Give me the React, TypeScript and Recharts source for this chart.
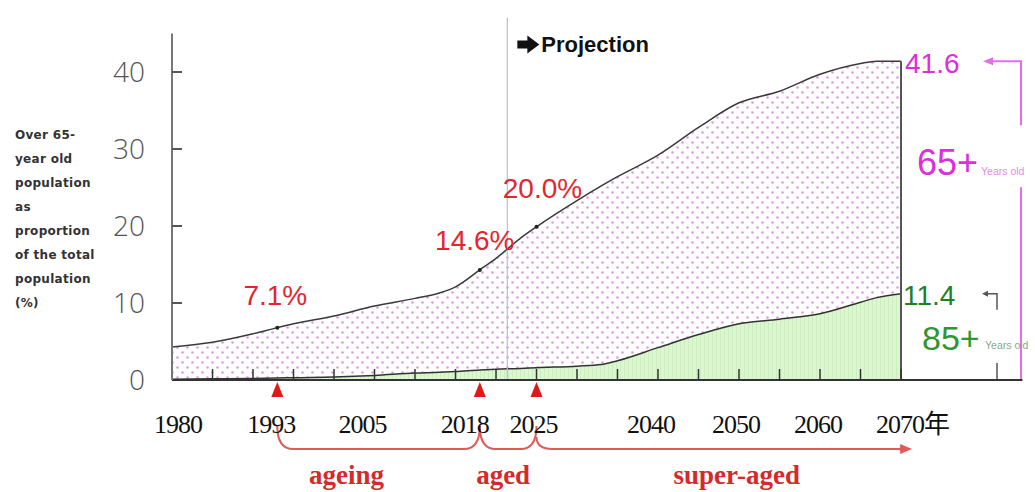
import React from "react";
import { ComposedChart, Area, XAxis, YAxis, ReferenceLine, ReferenceDot } from "recharts";

// ─── data ─────────────────────────────────────────────────────────────────────
const years = [1980, 1985, 1990, 1993, 1995, 2000, 2005, 2010, 2013, 2015, 2018, 2020, 2023, 2025, 2030, 2033, 2035, 2040, 2045, 2050, 2055, 2060, 2065, 2067, 2070];
const over65 = [4.3, 4.9, 6.0, 6.8, 7.3, 8.3, 9.6, 10.6, 11.3, 12.1, 14.3, 15.8, 18.4, 19.9, 23.3, 25.2, 26.4, 29.2, 32.8, 36.0, 37.5, 39.7, 41.1, 41.4, 41.4];
const over85 = [0.1, 0.15, 0.2, 0.25, 0.3, 0.4, 0.6, 0.9, 1.0, 1.1, 1.3, 1.4, 1.5, 1.6, 1.8, 2.0, 2.5, 4.2, 5.9, 7.3, 7.9, 8.6, 10.1, 10.7, 11.2];

const yTicks = [0, 10, 20, 30, 40];
const xTicks = [1980, 1985, 1990, 1993, 1995, 2000, 2005, 2010, 2015, 2018, 2020, 2025, 2030, 2035, 2040, 2045, 2050, 2055, 2060, 2065, 2070];
const xLabelYears = [1980, 1993, 2005, 2018, 2025, 2040, 2050, 2060, 2070];
const markYears = [1993, 2018, 2025];
const markLabels = ["7.1%", "14.6%", "20.0%"];
const stageFrom = [1993, 2018, 2025];
const stageTo = [2018, 2025, 2071];
const stageNames = ["ageing", "aged", "super-aged"];
const projectionYear = 2021.4;
const end65Label = "41.6";
const end85Label = "11.4";
const yTitleLines = ["Over 65-", "year old", "population", "as", "proportion", "of the total", "population", "(%)"];

const data = years.map((year, i) => ({ year, p65: over65[i], p85: over85[i] }));

// ─── styles ───────────────────────────────────────────────────────────────────
const RED = "#e3262e";
const MAGENTA = "#dd2edd";
const GREEN = "#237f23";
const SANS = "'Liberation Sans', Arial, sans-serif";
const SERIF = "'Liberation Serif', 'Noto Sans CJK SC', serif";
const xLabelNudge: Record<number, number> = { 1980: 6, 1993: -6, 2005: -12, 2018: -15, 2025: -3, 2040: -7, 2050: -3, 2060: -2 };
const markLabelOffset = [[-2, -23], [-5, -20], [6, -29]];
const stageLabelDx = [-32, -5, 14];

function XTick(props: any) {
  const { x, y, payload } = props;
  const v = payload.value as number;
  return (
    <g>
      {v % 5 === 0 && v > 1980 && (
        <line x1={x} y1={y} x2={x} y2={y - 11} stroke="#333" strokeWidth={1.5} />
      )}
      {markYears.includes(v) && (
        <path d={`M${x} ${y + 2} L${x + 6} ${y + 17} L${x - 6} ${y + 17} Z`} fill="#e01818" />
      )}
      {xLabelYears.includes(v) &&
        (v === 2070 ? (
          <text x={x - 25} y={y + 53} fontFamily={SERIF} fontSize={26} letterSpacing={-1} fill="#111">
            2070年
          </text>
        ) : (
          <text
            x={x + (xLabelNudge[v] || 0)}
            y={y + 53}
            textAnchor="middle"
            fontFamily={SERIF}
            fontSize={26}
            letterSpacing={-1}
            fill="#111"
          >
            {v}
          </text>
        ))}
    </g>
  );
}

function YTick(props: any) {
  const { x, y, payload } = props;
  return (
    <g>
      {payload.value > 0 && <line x1={x} y1={y} x2={x + 10} y2={y} stroke="#555" strokeWidth={2} />}
      <text
        x={x - 27}
        y={y}
        dy="0.36em"
        textAnchor="end"
        fontFamily="'Open Sans', 'DejaVu Sans', sans-serif"
        fontWeight={300}
        fontSize={28}
        fill="#555"
      >
        {payload.value}
      </text>
    </g>
  );
}

function markShape(i: number) {
  return (props: any) => {
    const { cx, cy } = props;
    const [dx, dy] = markLabelOffset[i];
    return (
      <g>
        <circle cx={cx} cy={cy} r={2} fill="#222" />
        <text x={cx + dx} y={cy + dy} textAnchor="middle" fontFamily={SANS} fontSize={28} fill={RED}>
          {markLabels[i]}
        </text>
      </g>
    );
  };
}

function stageShape(i: number) {
  return (props: any) => {
    const { x1, x2, y1 } = props;
    const top = y1 + (i === 2 ? 57 : 46);
    const bot = y1 + 69;
    const d =
      i === 2
        ? `M${x1} ${top} Q${x1} ${bot} ${x1 + 16} ${bot} H${x2 - 6}`
        : `M${x1} ${top} Q${x1} ${bot} ${x1 + 16} ${bot} H${x2 - 16} Q${x2} ${bot} ${x2} ${top}`;
    return (
      <g>
        <path d={d} stroke="#e05a5a" strokeWidth={2} fill="none" />
        {i === 2 && <path d={`M${x2 + 3} ${bot} L${x2 - 9} ${bot - 5} L${x2 - 9} ${bot + 5} Z`} fill="#e05a5a" />}
        <text
          x={(x1 + x2) / 2 + stageLabelDx[i]}
          y={y1 + 104}
          textAnchor="middle"
          fontFamily={SERIF}
          fontWeight="bold"
          fontSize={27}
          fill="#d42a2a"
        >
          {stageNames[i]}
        </text>
      </g>
    );
  };
}

function ProjectionShape(props: any) {
  const { x1, y1, y2 } = props;
  const top = y2 - 16;
  const ax = x1 + 10;
  const ay = top + 27;
  return (
    <g>
      <line x1={x1} y1={y1} x2={x1} y2={top} stroke="#adc3d8" strokeWidth={1.2} />
      <path
        d={`M${ax} ${ay - 4} H${ax + 10} V${ay - 9} L${ax + 22} ${ay} L${ax + 10} ${ay + 9} V${ay + 4} H${ax} Z`}
        fill="#111"
      />
      <text x={x1 + 34} y={top + 34} fontFamily={SANS} fontWeight="bold" fontSize={22} fill="#111">
        Projection
      </text>
    </g>
  );
}

function Note65(props: any) {
  const { x1, y1, y2 } = props;
  const bx = x1 + 120;
  const c = "#e46ee4";
  return (
    <g>
      <line x1={x1} y1={y1} x2={x1} y2={y2} stroke="#555" strokeWidth={2} />
      <text x={x1 + 4} y={y1 + 12} fontFamily={SANS} fontSize={28} fill={MAGENTA}>
        {end65Label}
      </text>
      <path d={`M${x1 + 90} ${y1} H${bx} V${y1 + 64} M${bx} ${y1 + 126} V${y2}`} stroke={c} strokeWidth={2} fill="none" />
      <path d={`M${x1 + 82} ${y1} L${x1 + 92} ${y1 - 4} L${x1 + 92} ${y1 + 4} Z`} fill={c} />
      <text x={x1 + 16} y={y1 + 114} fontFamily={SANS} fontSize={36} fill={MAGENTA}>
        65+
      </text>
      <text x={x1 + 80} y={y1 + 114} fontFamily={SANS} fontSize={10.5} fill="#e48ae4">
        Years old
      </text>
    </g>
  );
}

function Note85(props: any) {
  const { x1, y1, y2 } = props;
  return (
    <g>
      <text x={x1 + 2} y={y1 + 11} fontFamily={SANS} fontSize={28} fill={GREEN}>
        {end85Label}
      </text>
      <path d={`M${x1 + 86} ${y1} H${x1 + 96} V${y1 + 16}`} stroke="#555" strokeWidth={1.5} fill="none" />
      <path d={`M${x1 + 81} ${y1} L${x1 + 87} ${y1 - 3} L${x1 + 87} ${y1 + 3} Z`} fill="#555" />
      <text x={x1 + 21} y={y1 + 56} fontFamily={SANS} fontSize={34} fill="#2f962f">
        85+
      </text>
      <text x={x1 + 84} y={y1 + 55} fontFamily={SANS} fontSize={10.5} fill="#8aa88a">
        Years old
      </text>
      <line x1={x1 + 96} y1={y2 - 17} x2={x1 + 96} y2={y2} stroke="#555" strokeWidth={1.5} />
    </g>
  );
}

export default function App() {
  const last = years.length - 1;
  return (
    <div style={{ position: "fixed", left: 0, top: 0, width: 1035, height: 492, background: "#fff" }}>
      <ComposedChart width={1035} height={492} data={data} margin={{ top: 33.5, right: 12.5, bottom: 82, left: 112 }}>
        <defs>
          <pattern id="dots65" patternUnits="userSpaceOnUse" width={10} height={10}>
            <rect width={10} height={10} fill="#fff" />
            <circle cx={2.5} cy={2.5} r={1.3} fill="#dc9ce0" />
            <circle cx={7.5} cy={7.5} r={1.3} fill="#dc9ce0" />
          </pattern>
          <pattern id="stripes85" patternUnits="userSpaceOnUse" width={4} height={10}>
            <rect width={4} height={10} fill="#dcf7d0" />
            <line x1={0.5} y1={0} x2={0.5} y2={10} stroke="#cbedbf" strokeWidth={1} />
          </pattern>
        </defs>
        <XAxis
          type="number"
          dataKey="year"
          domain={[1980, 2085]}
          ticks={xTicks}
          interval={0}
          tickLine={false}
          tickSize={0}
          tickMargin={0}
          tick={<XTick />}
          axisLine={{ stroke: "#333", strokeWidth: 2 }}
          height={30}
        />
        <YAxis
          type="number"
          domain={[0, 45]}
          ticks={yTicks}
          interval={0}
          tickLine={false}
          tickSize={0}
          tickMargin={0}
          tick={<YTick />}
          axisLine={{ stroke: "#777", strokeWidth: 2 }}
          width={60}
        />
        <Area
          type="monotone"
          dataKey="p65"
          stroke="#3a3a3a"
          strokeWidth={1.5}
          fill="url(#dots65)"
          fillOpacity={1}
          dot={false}
          activeDot={false}
          isAnimationActive={false}
        />
        <Area
          type="monotone"
          dataKey="p85"
          stroke="#333"
          strokeWidth={1.5}
          fill="url(#stripes85)"
          fillOpacity={1}
          dot={false}
          activeDot={false}
          isAnimationActive={false}
        />
        <ReferenceLine
          segment={[{ x: projectionYear, y: 0 }, { x: projectionYear, y: 45 }]}
          shape={ProjectionShape}
        />
        {markYears.map((yr, i) => (
          <ReferenceDot key={yr} x={yr} y={over65[years.indexOf(yr)]} r={2} shape={markShape(i)} />
        ))}
        {stageNames.map((name, i) => (
          <ReferenceLine
            key={name}
            segment={[{ x: stageFrom[i], y: 0 }, { x: stageTo[i], y: 0 }]}
            shape={stageShape(i)}
          />
        ))}
        <ReferenceLine segment={[{ x: years[last], y: over65[last] }, { x: years[last], y: 0 }]} shape={Note65} />
        <ReferenceLine segment={[{ x: years[last], y: over85[last] }, { x: years[last], y: 0 }]} shape={Note85} />
      </ComposedChart>
      <div
        style={{
          position: "absolute",
          left: 15,
          top: 123,
          fontFamily: "'DejaVu Sans', sans-serif",
          fontWeight: "bold",
          fontSize: 12,
          lineHeight: "24px",
          letterSpacing: 0.3,
          color: "#333",
        }}
      >
        {yTitleLines.map((t, i) => (
          <div key={i}>{t}</div>
        ))}
      </div>
    </div>
  );
}
